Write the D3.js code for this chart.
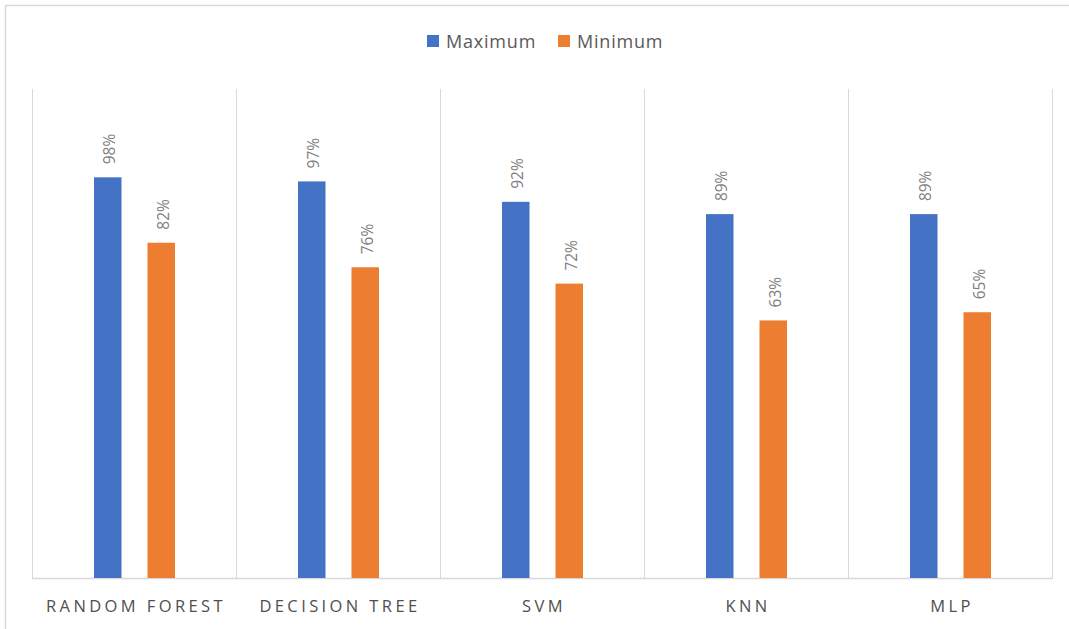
<!DOCTYPE html>
<html>
<head>
<meta charset="utf-8">
<script src="https://cdn.jsdelivr.net/npm/d3@7"></script>
<style>
  html, body { margin: 0; padding: 0; background: #fff; }
  svg { display: block; }
</style>
</head>
<body>
<svg id="chart" width="1069" height="629"></svg>
<script>
// Accuracy range per classifier
const categories = ["RANDOM FOREST", "DECISION TREE", "SVM", "KNN", "MLP"];
const seriesNames = ["Maximum", "Minimum"];
const maximumValues = [0.98, 0.97, 0.92, 0.89, 0.89];
const minimumValues = [0.82, 0.76, 0.72, 0.63, 0.65];
const colors = ["#4472c4", "#ed7d31"];

const svg = d3.select("#chart");
const W = 1069, H = 629;
const plot = { left: 32, right: 1052, top: 89, bottom: 578 };

// Outer chart frame (top and left edges visible)
svg.append("line").attr("x1", 5.5).attr("x2", W).attr("y1", 5.5).attr("y2", 5.5)
  .attr("stroke", "#d9d9d9").attr("stroke-width", 1.5);
svg.append("line").attr("x1", 5.5).attr("x2", 5.5).attr("y1", 5.5).attr("y2", H)
  .attr("stroke", "#d9d9d9").attr("stroke-width", 1.5);

const x = d3.scaleBand().domain(categories).range([plot.left, plot.right]).paddingInner(0).paddingOuter(0);
const y = d3.scaleLinear().domain([0, 1.196]).range([plot.bottom, plot.top]);

// Bar pair placement inside each category slot
const inner = d3.scaleBand().domain(seriesNames).range([62, 143]).paddingInner(0.486).paddingOuter(0);

// Category separator gridlines
const bounds = categories.map(c => x(c)).concat([plot.right]);
svg.append("g").selectAll("line").data(bounds).join("line")
  .attr("x1", d => d + 0.5).attr("x2", d => d + 0.5)
  .attr("y1", plot.top).attr("y2", plot.bottom)
  .attr("stroke", "#d9d9d9").attr("stroke-width", 1);

// Bottom axis line
svg.append("line").attr("x1", plot.left).attr("x2", plot.right + 1)
  .attr("y1", plot.bottom + 0.5).attr("y2", plot.bottom + 0.5)
  .attr("stroke", "#d9d9d9").attr("stroke-width", 1.5);

const rows = categories.map((c, i) => ({ cat: c, vals: [maximumValues[i], minimumValues[i]] }));

const groups = svg.append("g").selectAll("g").data(rows).join("g")
  .attr("transform", d => `translate(${x(d.cat)},0)`);

groups.selectAll("rect").data(d => d.vals.map((v, j) => ({ v, s: seriesNames[j], j })))
  .join("rect")
  .attr("x", d => inner(d.s))
  .attr("width", inner.bandwidth())
  .attr("y", d => y(d.v))
  .attr("height", d => y(0) - y(d.v))
  .attr("fill", d => colors[d.j]);

// Rotated value labels above each bar
groups.selectAll("text").data(d => d.vals.map((v, j) => ({ v, s: seriesNames[j], j })))
  .join("text")
  .attr("transform", d => `translate(${inner(d.s) + inner.bandwidth() / 2 + 7.5},${y(d.v) - 13}) rotate(-90)`)
  .attr("text-anchor", "start")
  .attr("font-family", "'Open Sans', 'Noto Sans', sans-serif")
  .attr("font-size", 15.5)
  .attr("fill", "#808080")
  .text(d => Math.round(d.v * 100) + "%");

// Category labels
svg.append("g").selectAll("text").data(categories).join("text")
  .attr("x", d => x(d) + x.bandwidth() / 2 + 2)
  .attr("y", 612)
  .attr("text-anchor", "middle")
  .attr("font-family", "'Open Sans', 'Noto Sans', sans-serif")
  .attr("font-size", 16.5)
  .attr("letter-spacing", "3.4px")
  .attr("fill", "#505050")
  .text(d => d);

// Legend
const legendItems = [
  { name: seriesNames[0], color: colors[0], x: 427 },
  { name: seriesNames[1], color: colors[1], x: 558 }
];
const lg = svg.append("g").selectAll("g").data(legendItems).join("g")
  .attr("transform", d => `translate(${d.x},35)`);
lg.append("rect").attr("width", 12).attr("height", 12).attr("fill", d => d.color);
lg.append("text").attr("x", 19).attr("y", 12.5)
  .attr("font-family", "'Open Sans', 'Noto Sans', sans-serif")
  .attr("font-size", 18)
  .attr("letter-spacing", "0.8px")
  .attr("fill", "#595959")
  .text(d => d.name);
</script>
</body>
</html>
